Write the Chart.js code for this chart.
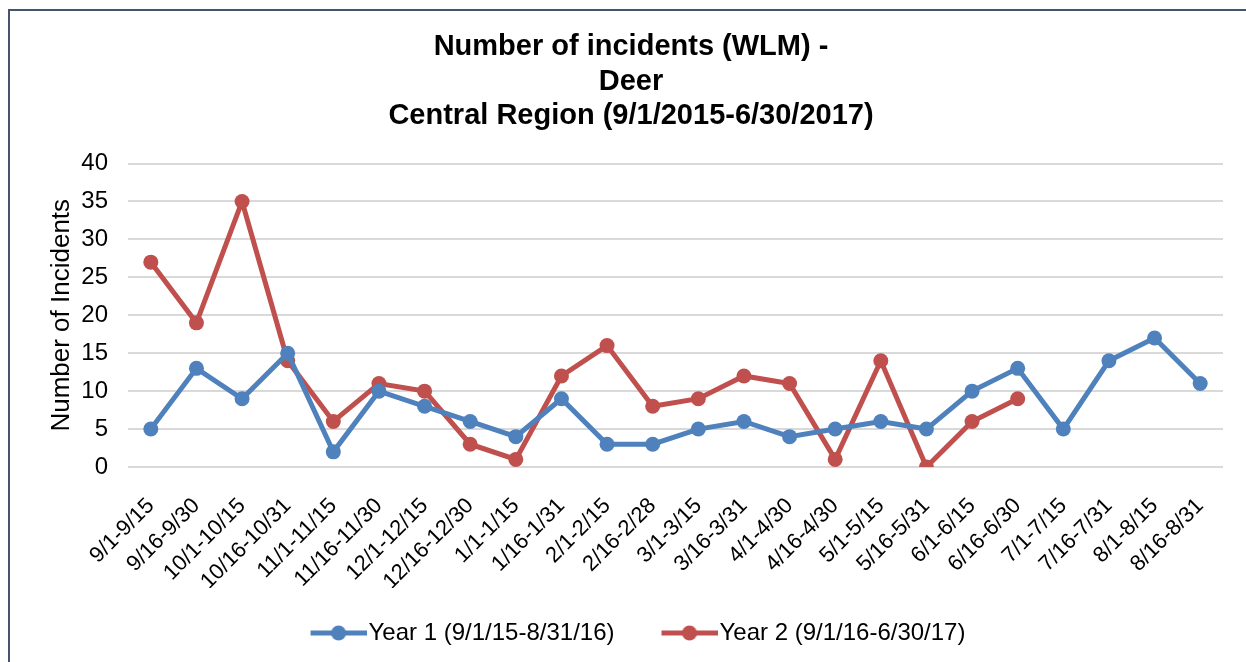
<!DOCTYPE html>
<html>
<head>
<meta charset="utf-8">
<script src="https://cdn.jsdelivr.net/npm/chart.js@4.4.1/dist/chart.umd.min.js"></script>
<style>
  html, body { margin: 0; padding: 0; background: #fff; overflow: hidden; }
  #frame {
    position: absolute; left: 8px; top: 9px; width: 1400px; height: 800px;
    border-left: 2px solid #44546A; border-top: 2px solid #44546A;
  }
  #chart { position: absolute; left: 0; top: 0; }
</style>
</head>
<body>
<div id="frame"></div>
<canvas id="chart" width="1246" height="662"></canvas>
<script>
// Categorias (quinzenas)
const periodos = ['9/1-9/15', '9/16-9/30', '10/1-10/15', '10/16-10/31', '11/1-11/15', '11/16-11/30',
  '12/1-12/15', '12/16-12/30', '1/1-1/15', '1/16-1/31', '2/1-2/15', '2/16-2/28', '3/1-3/15',
  '3/16-3/31', '4/1-4/30', '4/16-4/30', '5/1-5/15', '5/16-5/31', '6/1-6/15', '6/16-6/30',
  '7/1-7/15', '7/16-7/31', '8/1-8/15', '8/16-8/31'];

const ano1 = [5, 13, 9, 15, 2, 10, 8, 6, 4, 9, 3, 3, 5, 6, 4, 5, 6, 5, 10, 13, 5, 14, 17, 11];
const ano2 = [27, 19, 35, 14, 6, 11, 10, 3, 1, 12, 16, 8, 9, 12, 11, 1, 14, 0, 6, 9, null, null, null, null];

const tituloLinhas = ['Number of incidents (WLM) -', 'Deer', 'Central Region (9/1/2015-6/30/2017)'];

const AZUL = '#4F81BD';
const VERMELHO = '#C0504D';
const FONTE = "'Liberation Sans', Arial, sans-serif";

// Marcador da legenda: linha + bolinha (estilo Excel), com espaço vazio à esquerda
function legendMarker(cor) {
    const vazio = 24;
    const c = document.createElement('canvas');
    c.width = 56 + vazio;
    c.height = 16;
    const g = c.getContext('2d');
    g.strokeStyle = cor;
    g.lineWidth = 5;
    g.beginPath();
    g.moveTo(vazio, 8);
    g.lineTo(vazio + 56, 8);
    g.stroke();
    g.fillStyle = cor;
    g.beginPath();
    g.arc(vazio + 28, 8, 7.5, 0, Math.PI * 2);
    g.fill();
    return c;
}

const ctx = document.getElementById('chart').getContext('2d');

new Chart(ctx, {
    type: 'line',
    data: {
        labels: periodos,
        datasets: [{
            label: 'Year 1 (9/1/15-8/31/16)',
            data: ano1,
            borderColor: AZUL,
            backgroundColor: AZUL,
            borderWidth: 5,
            pointRadius: 7.5,
            pointBorderWidth: 0,
            tension: 0
        }, {
            label: 'Year 2 (9/1/16-6/30/17)',
            data: ano2,
            borderColor: VERMELHO,
            backgroundColor: VERMELHO,
            borderWidth: 5,
            pointRadius: 7.5,
            pointBorderWidth: 0,
            tension: 0
        }]
    },
    options: {
        responsive: false,
        devicePixelRatio: 1,
        animation: false,
        layout: { padding: { left: 39, right: 23, top: 0, bottom: 7 } },
        scales: {
            x: {
                offset: true,
                afterFit: (axis) => { axis.height = 121; },
                grid: { display: false },
                border: { display: false },
                ticks: {
                    color: '#000',
                    font: { family: FONTE, size: 22 },
                    maxRotation: 45,
                    minRotation: 45,
                    autoSkip: false,
                    padding: 18
                }
            },
            y: {
                min: 0,
                max: 40,
                afterFit: (axis) => { axis.width = 89; },
                border: { display: false },
                grid: { color: '#D9D9D9', lineWidth: 2, drawTicks: false },
                ticks: {
                    stepSize: 5,
                    color: '#000',
                    font: { family: FONTE, size: 24 },
                    padding: 20
                },
                title: {
                    display: true,
                    text: 'Number of Incidents',
                    color: '#000',
                    font: { family: FONTE, size: 26 },
                    padding: { top: 7, bottom: 0 }
                }
            }
        },
        plugins: {
            title: {
                display: true,
                text: tituloLinhas,
                color: '#000',
                font: { family: FONTE, size: 29, weight: 'bold', lineHeight: 1.19 },
                padding: { top: 30, bottom: 30 }
            },
            legend: {
                position: 'bottom',
                labels: {
                    color: '#000',
                    font: { family: FONTE, size: 24 },
                    usePointStyle: true,
                    pointStyleWidth: 60,
                    padding: 33,
                    generateLabels: (chart) => chart.data.datasets.map((ds, i) => ({
                        text: ds.label,
                        fillStyle: ds.borderColor,
                        strokeStyle: ds.borderColor,
                        lineWidth: 0,
                        pointStyle: legendMarker(ds.borderColor),
                        datasetIndex: i,
                        hidden: false
                    }))
                }
            },
            tooltip: { enabled: false }
        }
    }
});
</script>
</body>
</html>
